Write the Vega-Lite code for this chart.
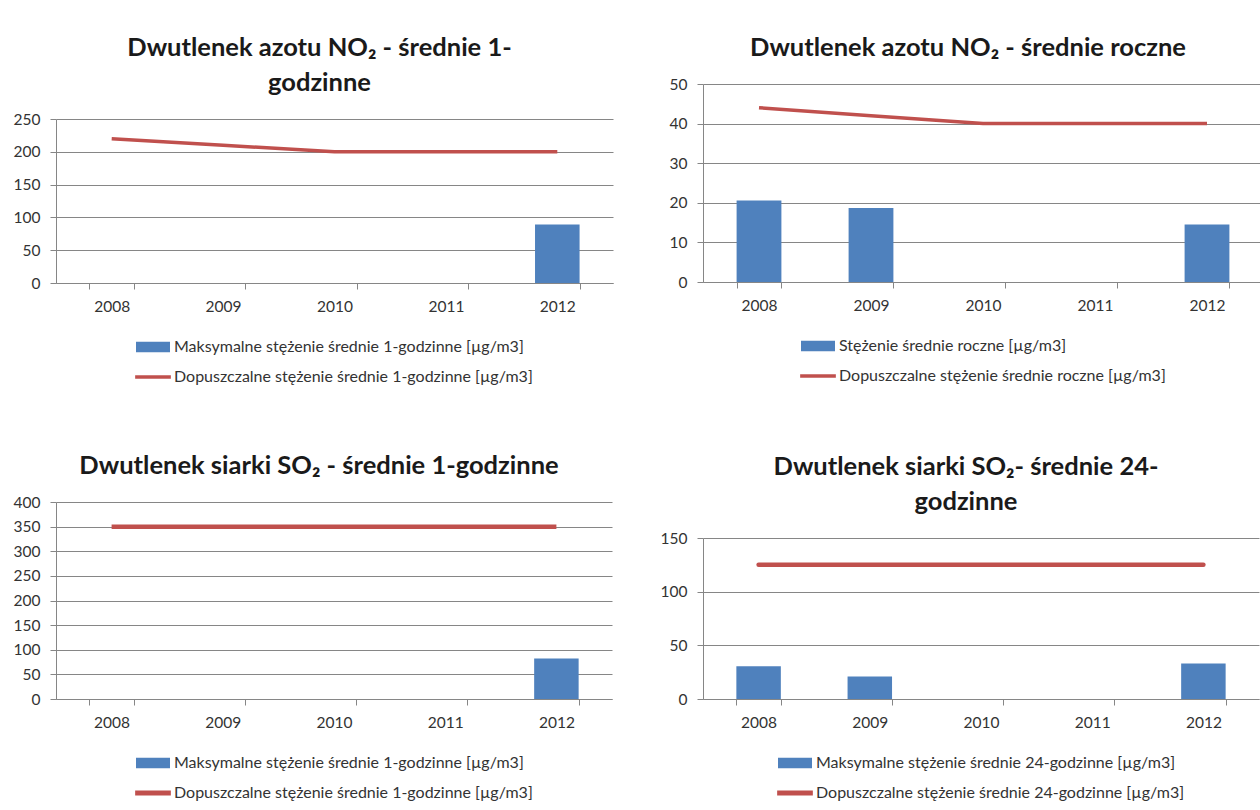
{
  "$schema": "https://vega.github.io/schema/vega-lite/v6.json",
  "background": "white",
  "padding": {"left": 13, "top": 15, "right": 0, "bottom": 0},
  "datasets": {
    "d": [
      {"chart": "A", "kind": "bar", "year": "2012", "value": 89, "series": "Maksymalne  stężenie średnie 1-godzinne [µg/m3]"},
      {"chart": "A", "kind": "line", "year": "2008", "value": 220, "series": "Dopuszczalne stężenie średnie 1-godzinne [µg/m3]"},
      {"chart": "A", "kind": "line", "year": "2009", "value": 210, "series": "Dopuszczalne stężenie średnie 1-godzinne [µg/m3]"},
      {"chart": "A", "kind": "line", "year": "2010", "value": 200, "series": "Dopuszczalne stężenie średnie 1-godzinne [µg/m3]"},
      {"chart": "A", "kind": "line", "year": "2011", "value": 200, "series": "Dopuszczalne stężenie średnie 1-godzinne [µg/m3]"},
      {"chart": "A", "kind": "line", "year": "2012", "value": 200, "series": "Dopuszczalne stężenie średnie 1-godzinne [µg/m3]"},
      {"chart": "B", "kind": "bar", "year": "2008", "value": 20.6, "series": "Stężenie średnie roczne [µg/m3]"},
      {"chart": "B", "kind": "bar", "year": "2009", "value": 18.7, "series": "Stężenie średnie roczne [µg/m3]"},
      {"chart": "B", "kind": "bar", "year": "2012", "value": 14.5, "series": "Stężenie średnie roczne [µg/m3]"},
      {"chart": "B", "kind": "line", "year": "2008", "value": 44, "series": "Dopuszczalne stężenie średnie roczne [µg/m3]"},
      {"chart": "B", "kind": "line", "year": "2009", "value": 42, "series": "Dopuszczalne stężenie średnie roczne [µg/m3]"},
      {"chart": "B", "kind": "line", "year": "2010", "value": 40, "series": "Dopuszczalne stężenie średnie roczne [µg/m3]"},
      {"chart": "B", "kind": "line", "year": "2011", "value": 40, "series": "Dopuszczalne stężenie średnie roczne [µg/m3]"},
      {"chart": "B", "kind": "line", "year": "2012", "value": 40, "series": "Dopuszczalne stężenie średnie roczne [µg/m3]"},
      {"chart": "C", "kind": "bar", "year": "2012", "value": 82, "series": "Maksymalne  stężenie średnie 1-godzinne [µg/m3]"},
      {"chart": "C", "kind": "line", "year": "2008", "value": 350, "series": "Dopuszczalne stężenie średnie 1-godzinne [µg/m3]"},
      {"chart": "C", "kind": "line", "year": "2009", "value": 350, "series": "Dopuszczalne stężenie średnie 1-godzinne [µg/m3]"},
      {"chart": "C", "kind": "line", "year": "2010", "value": 350, "series": "Dopuszczalne stężenie średnie 1-godzinne [µg/m3]"},
      {"chart": "C", "kind": "line", "year": "2011", "value": 350, "series": "Dopuszczalne stężenie średnie 1-godzinne [µg/m3]"},
      {"chart": "C", "kind": "line", "year": "2012", "value": 350, "series": "Dopuszczalne stężenie średnie 1-godzinne [µg/m3]"},
      {"chart": "D", "kind": "bar", "year": "2008", "value": 30.5, "series": "Maksymalne  stężenie średnie 24-godzinne [µg/m3]"},
      {"chart": "D", "kind": "bar", "year": "2009", "value": 21, "series": "Maksymalne  stężenie średnie 24-godzinne [µg/m3]"},
      {"chart": "D", "kind": "bar", "year": "2012", "value": 33, "series": "Maksymalne  stężenie średnie 24-godzinne [µg/m3]"},
      {"chart": "D", "kind": "line", "year": "2008", "value": 125, "series": "Dopuszczalne stężenie średnie 24-godzinne [µg/m3]"},
      {"chart": "D", "kind": "line", "year": "2009", "value": 125, "series": "Dopuszczalne stężenie średnie 24-godzinne [µg/m3]"},
      {"chart": "D", "kind": "line", "year": "2010", "value": 125, "series": "Dopuszczalne stężenie średnie 24-godzinne [µg/m3]"},
      {"chart": "D", "kind": "line", "year": "2011", "value": 125, "series": "Dopuszczalne stężenie średnie 24-godzinne [µg/m3]"},
      {"chart": "D", "kind": "line", "year": "2012", "value": 125, "series": "Dopuszczalne stężenie średnie 24-godzinne [µg/m3]"}
    ]
  },
  "config": {
    "font": "Lato",
    "view": {"stroke": null},
    "axis": {"labelFont": "Lato", "labelFontSize": 15.5, "labelColor": "#333333", "domainColor": "#868686", "tickColor": "#868686", "gridColor": "#868686", "gridOpacity": 1, "title": null},
    "axisX": {"tickBand": "extent", "labelAngle": 0, "tickSize": 6, "labelPadding": 10, "grid": false},
    "axisY": {"tickSize": 6, "labelPadding": 10, "grid": true},
    "title": {"fontSize": 25.5, "font": "Lato", "fontWeight": "bold", "lineHeight": 35, "offset": 16, "dx": -15, "color": "#1a1a1a", "anchor": "middle"},
    "legend": {"orient": "bottom", "direction": "vertical", "title": null, "labelFont": "Lato", "labelFontSize": 16, "labelLimit": 700, "labelColor": "#333333", "labelOffset": 4, "symbolSize": 1156, "rowPadding": 5, "offset": 14.5, "layout": {"bottom": {"anchor": "middle"}}}
  },
  "spacing": 47,
  "resolve": {"scale": {"color": "independent"}},
  "hconcat": [
    {
      "spacing": 0,
      "resolve": {"scale": {"color": "independent"}},
      "vconcat": [
        {"width": 1, "height": 0, "data": {"values": []}, "mark": {"type": "point", "size": 0}},
        {
          "spacing": 68,
          "resolve": {"scale": {"color": "independent"}},
          "vconcat": [
            {
              "width": 557, "height": 164,
              "title": {"text": ["Dwutlenek azotu NO₂ - średnie 1-", "godzinne"]},
              "data": {"name": "d"},
              "transform": [{"filter": "datum.chart == 'A'"}],
              "encoding": {
                "x": {"field": "year", "type": "ordinal", "scale": {"paddingInner": 0.6, "paddingOuter": 0.3}},
                "y": {"field": "value", "type": "quantitative", "scale": {"domain": [0, 250]}, "axis": {"values": [0, 50, 100, 150, 200, 250]}},
                "color": {"field": "series", "type": "nominal",
                  "scale": {"domain": ["Maksymalne  stężenie średnie 1-godzinne [µg/m3]", "Dopuszczalne stężenie średnie 1-godzinne [µg/m3]"], "range": ["#4F81BD", "#C0504D"]},
                  "legend": {"encode": {"symbols": {"update": {"shape": {"signal": "indexof(datum.value, 'Dopuszczalne') == 0 ? 'M-1.05,-0.11H1.05V0.11H-1.05Z' : 'M-1,-0.31H1V0.31H-1Z'"}, "fill": {"signal": "indexof(datum.value, 'Dopuszczalne') == 0 ? '#C0504D' : '#4F81BD'"}, "strokeWidth": {"value": 0}, "opacity": {"value": 1}}}}}}
              },
              "layer": [
                {"transform": [{"filter": "datum.kind == 'bar'"}], "mark": {"type": "bar"}},
                {"transform": [{"filter": "datum.kind == 'line'"}], "mark": {"type": "line", "strokeWidth": 3.5}}
              ]
            },
            {
              "width": 556, "height": 197,
              "title": {"text": "Dwutlenek siarki SO₂ - średnie 1-godzinne"},
              "data": {"name": "d"},
              "transform": [{"filter": "datum.chart == 'C'"}],
              "encoding": {
                "x": {"field": "year", "type": "ordinal", "scale": {"paddingInner": 0.6, "paddingOuter": 0.3}},
                "y": {"field": "value", "type": "quantitative", "scale": {"domain": [0, 400]}, "axis": {"values": [0, 50, 100, 150, 200, 250, 300, 350, 400]}},
                "color": {"field": "series", "type": "nominal",
                  "scale": {"domain": ["Maksymalne  stężenie średnie 1-godzinne [µg/m3]", "Dopuszczalne stężenie średnie 1-godzinne [µg/m3]"], "range": ["#4F81BD", "#C0504D"]},
                  "legend": {"encode": {"symbols": {"update": {"shape": {"signal": "indexof(datum.value, 'Dopuszczalne') == 0 ? 'M-1.05,-0.14H1.05V0.14H-1.05Z' : 'M-1,-0.31H1V0.31H-1Z'"}, "fill": {"signal": "indexof(datum.value, 'Dopuszczalne') == 0 ? '#C0504D' : '#4F81BD'"}, "strokeWidth": {"value": 0}, "opacity": {"value": 1}}}}}}
              },
              "layer": [
                {"transform": [{"filter": "datum.kind == 'bar'"}], "mark": {"type": "bar"}},
                {"transform": [{"filter": "datum.kind == 'line'"}], "mark": {"type": "line", "strokeWidth": 4.5}}
              ]
            }
          ]
        }
      ]
    },
    {
      "spacing": 0,
      "resolve": {"scale": {"color": "independent"}},
      "vconcat": [
        {"width": 1, "height": 0, "data": {"values": []}, "mark": {"type": "point", "size": 0}},
        {
          "spacing": 70,
          "resolve": {"scale": {"color": "independent"}},
          "vconcat": [
            {
              "width": 560, "height": 198,
              "title": {"text": "Dwutlenek azotu NO₂ - średnie roczne"},
              "data": {"name": "d"},
              "transform": [{"filter": "datum.chart == 'B'"}],
              "encoding": {
                "x": {"field": "year", "type": "ordinal", "scale": {"paddingInner": 0.6, "paddingOuter": 0.3}},
                "y": {"field": "value", "type": "quantitative", "scale": {"domain": [0, 50]}, "axis": {"values": [0, 10, 20, 30, 40, 50]}},
                "color": {"field": "series", "type": "nominal",
                  "scale": {"domain": ["Stężenie średnie roczne [µg/m3]", "Dopuszczalne stężenie średnie roczne [µg/m3]"], "range": ["#4F81BD", "#C0504D"]},
                  "legend": {"encode": {"symbols": {"update": {"shape": {"signal": "indexof(datum.value, 'Dopuszczalne') == 0 ? 'M-1.05,-0.11H1.05V0.11H-1.05Z' : 'M-1,-0.31H1V0.31H-1Z'"}, "fill": {"signal": "indexof(datum.value, 'Dopuszczalne') == 0 ? '#C0504D' : '#4F81BD'"}, "strokeWidth": {"value": 0}, "opacity": {"value": 1}}}}}}
              },
              "layer": [
                {"transform": [{"filter": "datum.kind == 'bar'"}], "mark": {"type": "bar"}},
                {"transform": [{"filter": "datum.kind == 'line'"}], "mark": {"type": "line", "strokeWidth": 3.5}}
              ]
            },
            {
              "width": 556, "height": 161,
              "title": {"text": ["Dwutlenek siarki SO₂- średnie 24-", "godzinne"]},
              "data": {"name": "d"},
              "transform": [{"filter": "datum.chart == 'D'"}],
              "encoding": {
                "x": {"field": "year", "type": "ordinal", "scale": {"paddingInner": 0.6, "paddingOuter": 0.3}},
                "y": {"field": "value", "type": "quantitative", "scale": {"domain": [0, 150]}, "axis": {"values": [0, 50, 100, 150]}},
                "color": {"field": "series", "type": "nominal",
                  "scale": {"domain": ["Maksymalne  stężenie średnie 24-godzinne [µg/m3]", "Dopuszczalne stężenie średnie 24-godzinne [µg/m3]"], "range": ["#4F81BD", "#C0504D"]},
                  "legend": {"encode": {"symbols": {"update": {"shape": {"signal": "indexof(datum.value, 'Dopuszczalne') == 0 ? 'M-1.05,-0.14H1.05V0.14H-1.05Z' : 'M-1,-0.31H1V0.31H-1Z'"}, "fill": {"signal": "indexof(datum.value, 'Dopuszczalne') == 0 ? '#C0504D' : '#4F81BD'"}, "strokeWidth": {"value": 0}, "opacity": {"value": 1}}}}}}
              },
              "layer": [
                {"transform": [{"filter": "datum.kind == 'bar'"}], "mark": {"type": "bar"}},
                {"transform": [{"filter": "datum.kind == 'line'"}], "mark": {"type": "line", "strokeWidth": 4.5, "strokeCap": "round"}}
              ]
            }
          ]
        }
      ]
    }
  ]
}
